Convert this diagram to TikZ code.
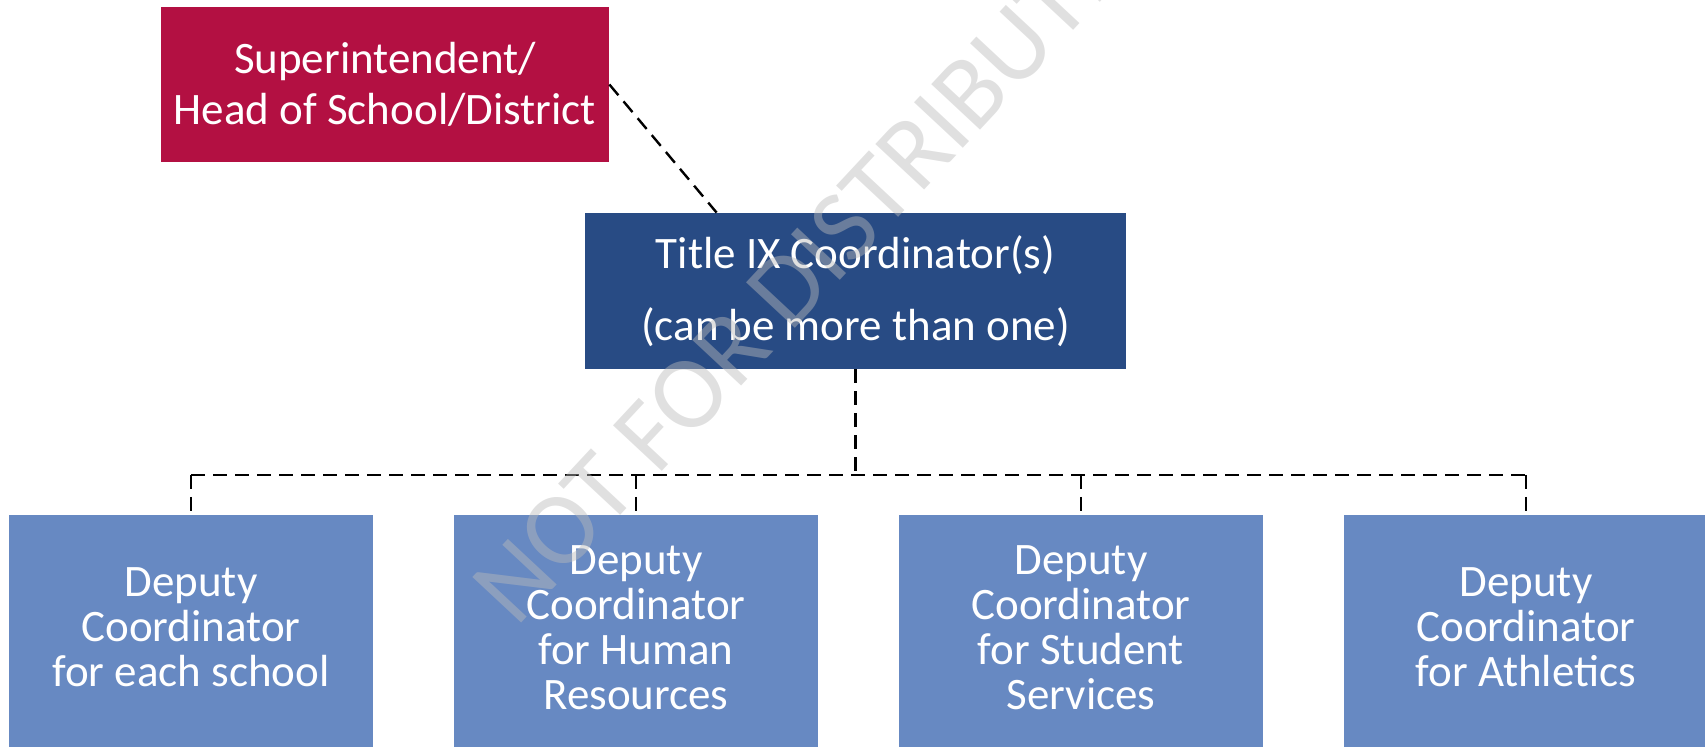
\documentclass[tikz,border=0pt]{standalone}
\usepackage{fontspec}
\setmainfont{Carlito}
\definecolor{headred}{HTML}{B31042}
\definecolor{titleblue}{HTML}{284B84}
\definecolor{deputyblue}{HTML}{6789C2}
\definecolor{markgray}{HTML}{BBBBBB}
\begin{document}
\begin{tikzpicture}[x=0.5pt,y=-0.5pt]

    \tikzset{
      box/.style={
        draw=none,
        text=white,
        align=center,
        inner sep=0pt,
      },
      headbox/.style={box, fill=headred, minimum width=224pt, minimum height=77.5pt,
        font=\fontsize{22.5}{25.5}\selectfont},
      titlebox/.style={box, fill=titleblue, minimum width=270.5pt, minimum height=78pt,
        font=\fontsize{22.5}{36}\selectfont},
      deputybox/.style={box, fill=deputyblue, minimum width=182pt, minimum height=120pt,
        anchor=north, text depth=8pt, font=\fontsize{22.5}{22.5}\selectfont},
      link/.style={line width=1.2pt, dash pattern=on 7pt off 4pt},
      watermark/.style={text=markgray, text opacity=0.45, rotate=47,
        font=\fontsize{52}{52}\selectfont},
    }
    \useasboundingbox (0,0) rectangle (1705,747);
	\node[headbox] (super) at (385,84.5) {Superintendent/\\Head of School/District};
	\node[titlebox] (title) at (855.5,291) {Title IX Coordinator(s)\\(can be more than one)};
	\node[deputybox] (d1) at (191,515) {Deputy\\Coordinator\\for each school};
	\node[deputybox] (d2) at (636,515) {Deputy\\Coordinator\\for Human\\Resources};
	\node[deputybox] (d3) at (1081,515) {Deputy\\Coordinator\\for Student\\Services};
	\node[deputybox] (d4) at (1526,515) {Deputy\\Coordinator\\for Athletics};
	\coordinate (split) at (855.5,475);
	\draw[link] (super.east) -- ([xshift=66pt]title.north west);
	\draw[link] (title.south) -- (split);
	\draw[link] (d1.north |- split) -- (d4.north |- split);
	\foreach \d in {d1,d2,d3,d4}
	  \draw[link] (\d.north |- split) -- (\d.north);
	\node[watermark] (mark) at (836,236) {NOT FOR DISTRIBUTION};

\end{tikzpicture}
\end{document}
